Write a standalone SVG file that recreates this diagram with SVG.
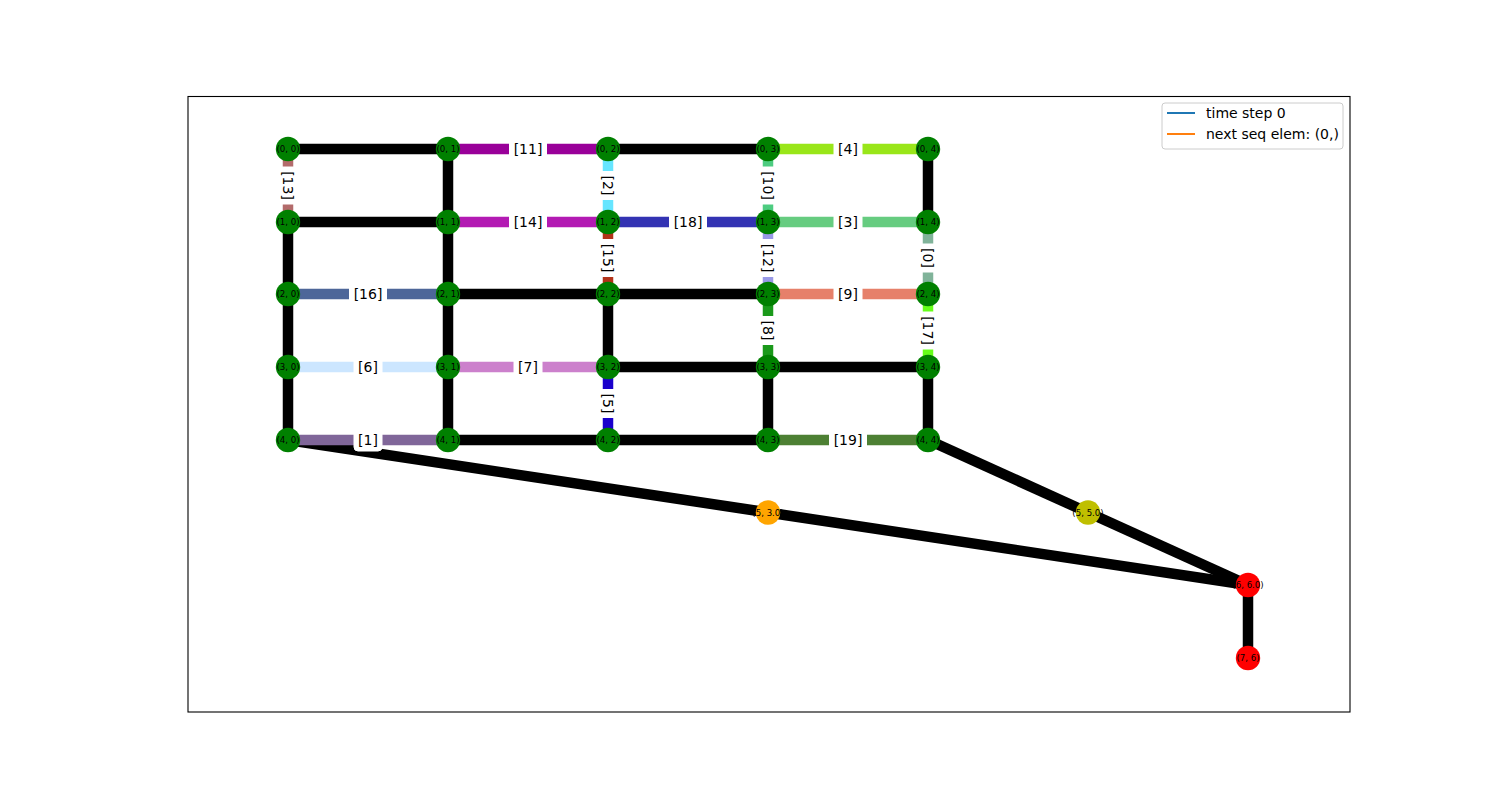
<svg xmlns="http://www.w3.org/2000/svg" width="1500" height="800" viewBox="0 0 1500 800">
<style>
.e{stroke-width:10.5;stroke-linecap:butt;fill:none}
.k{stroke:#000}
.nl{font-family:"DejaVu Sans",sans-serif;font-size:8.6px;text-anchor:middle;fill:#000}
.lb{fill:#fff;stroke:#fff;stroke-width:1}
.lt{font-family:"DejaVu Sans",sans-serif;font-size:14px;text-anchor:middle;fill:#000}
.lg{font-family:"DejaVu Sans",sans-serif;font-size:14px;fill:#000}
</style>
<rect width="1500" height="800" fill="#fff"/>
<rect x="188" y="96.5" width="1162" height="615.5" fill="none" stroke="#000" stroke-width="1.1"/>
<g id="connectors">
<line class="e k" x1="288" y1="149" x2="448" y2="149"/>
<line class="e k" x1="608" y1="149" x2="768" y2="149"/>
<line class="e k" x1="448" y1="149" x2="448" y2="222"/>
<line class="e k" x1="288" y1="222" x2="448" y2="222"/>
<line class="e k" x1="928" y1="149" x2="928" y2="222"/>
<line class="e k" x1="288" y1="222" x2="288" y2="294"/>
<line class="e k" x1="448" y1="222" x2="448" y2="294"/>
<line class="e k" x1="448" y1="294" x2="608" y2="294"/>
<line class="e k" x1="608" y1="294" x2="768" y2="294"/>
<line class="e k" x1="288" y1="294" x2="288" y2="367"/>
<line class="e k" x1="448" y1="294" x2="448" y2="367"/>
<line class="e k" x1="608" y1="294" x2="608" y2="367"/>
<line class="e k" x1="288" y1="367" x2="288" y2="440"/>
<line class="e k" x1="448" y1="367" x2="448" y2="440"/>
<line class="e k" x1="608" y1="367" x2="768" y2="367"/>
<line class="e k" x1="768" y1="367" x2="928" y2="367"/>
<line class="e k" x1="768" y1="367" x2="768" y2="440"/>
<line class="e k" x1="928" y1="367" x2="928" y2="440"/>
<line class="e k" x1="448" y1="440" x2="608" y2="440"/>
<line class="e k" x1="608" y1="440" x2="768" y2="440"/>
<line class="e k" x1="288" y1="440" x2="768" y2="512.5"/>
<line class="e k" x1="768" y1="512.5" x2="1248" y2="585"/>
<line class="e k" x1="928" y1="440" x2="1088" y2="512.5"/>
<line class="e k" x1="1088" y1="512.5" x2="1248" y2="585"/>
<line class="e k" x1="1248" y1="585" x2="1248" y2="658"/>
<line class="e" stroke="#b36b6b" x1="288" y1="149" x2="288" y2="222"/>
<line class="e" stroke="#990099" x1="448" y1="149" x2="608" y2="149"/>
<line class="e" stroke="#b31ab3" x1="448" y1="222" x2="608" y2="222"/>
<line class="e" stroke="#66e5ff" x1="608" y1="149" x2="608" y2="222"/>
<line class="e" stroke="#b33319" x1="608" y1="222" x2="608" y2="294"/>
<line class="e" stroke="#4d6699" x1="288" y1="294" x2="448" y2="294"/>
<line class="e" stroke="#99e619" x1="768" y1="149" x2="928" y2="149"/>
<line class="e" stroke="#4dcc80" x1="768" y1="149" x2="768" y2="222"/>
<line class="e" stroke="#3333b3" x1="608" y1="222" x2="768" y2="222"/>
<line class="e" stroke="#66cc80" x1="768" y1="222" x2="928" y2="222"/>
<line class="e" stroke="#80b399" x1="928" y1="222" x2="928" y2="294"/>
<line class="e" stroke="#9999e6" x1="768" y1="222" x2="768" y2="294"/>
<line class="e" stroke="#e6806a" x1="768" y1="294" x2="928" y2="294"/>
<line class="e" stroke="#cce6ff" x1="288" y1="367" x2="448" y2="367"/>
<line class="e" stroke="#cc80cc" x1="448" y1="367" x2="608" y2="367"/>
<line class="e" stroke="#1a00cc" x1="608" y1="367" x2="608" y2="440"/>
<line class="e" stroke="#806699" x1="288" y1="440" x2="448" y2="440"/>
<line class="e" stroke="#1a991a" x1="768" y1="294" x2="768" y2="367"/>
<line class="e" stroke="#66ff19" x1="928" y1="294" x2="928" y2="367"/>
<line class="e" stroke="#4d8033" x1="768" y1="440" x2="928" y2="440"/>
</g>
<g id="nodes">
<g id="n00"><circle cx="288" cy="149" r="12.2" fill="#008000"/><text class="nl" x="288" y="152">(0, 0)</text></g>
<g id="n01"><circle cx="448" cy="149" r="12.2" fill="#008000"/><text class="nl" x="448" y="152">(0, 1)</text></g>
<g id="n02"><circle cx="608" cy="149" r="12.2" fill="#008000"/><text class="nl" x="608" y="152">(0, 2)</text></g>
<g id="n03"><circle cx="768" cy="149" r="12.2" fill="#008000"/><text class="nl" x="768" y="152">(0, 3)</text></g>
<g id="n04"><circle cx="928" cy="149" r="12.2" fill="#008000"/><text class="nl" x="928" y="152">(0, 4)</text></g>
<g id="n10"><circle cx="288" cy="222" r="12.2" fill="#008000"/><text class="nl" x="288" y="225">(1, 0)</text></g>
<g id="n11"><circle cx="448" cy="222" r="12.2" fill="#008000"/><text class="nl" x="448" y="225">(1, 1)</text></g>
<g id="n12"><circle cx="608" cy="222" r="12.2" fill="#008000"/><text class="nl" x="608" y="225">(1, 2)</text></g>
<g id="n13"><circle cx="768" cy="222" r="12.2" fill="#008000"/><text class="nl" x="768" y="225">(1, 3)</text></g>
<g id="n14"><circle cx="928" cy="222" r="12.2" fill="#008000"/><text class="nl" x="928" y="225">(1, 4)</text></g>
<g id="n20"><circle cx="288" cy="294" r="12.2" fill="#008000"/><text class="nl" x="288" y="297">(2, 0)</text></g>
<g id="n21"><circle cx="448" cy="294" r="12.2" fill="#008000"/><text class="nl" x="448" y="297">(2, 1)</text></g>
<g id="n22"><circle cx="608" cy="294" r="12.2" fill="#008000"/><text class="nl" x="608" y="297">(2, 2)</text></g>
<g id="n23"><circle cx="768" cy="294" r="12.2" fill="#008000"/><text class="nl" x="768" y="297">(2, 3)</text></g>
<g id="n24"><circle cx="928" cy="294" r="12.2" fill="#008000"/><text class="nl" x="928" y="297">(2, 4)</text></g>
<g id="n30"><circle cx="288" cy="367" r="12.2" fill="#008000"/><text class="nl" x="288" y="370">(3, 0)</text></g>
<g id="n31"><circle cx="448" cy="367" r="12.2" fill="#008000"/><text class="nl" x="448" y="370">(3, 1)</text></g>
<g id="n32"><circle cx="608" cy="367" r="12.2" fill="#008000"/><text class="nl" x="608" y="370">(3, 2)</text></g>
<g id="n33"><circle cx="768" cy="367" r="12.2" fill="#008000"/><text class="nl" x="768" y="370">(3, 3)</text></g>
<g id="n34"><circle cx="928" cy="367" r="12.2" fill="#008000"/><text class="nl" x="928" y="370">(3, 4)</text></g>
<g id="n40"><circle cx="288" cy="440" r="12.2" fill="#008000"/><text class="nl" x="288" y="443">(4, 0)</text></g>
<g id="n41"><circle cx="448" cy="440" r="12.2" fill="#008000"/><text class="nl" x="448" y="443">(4, 1)</text></g>
<g id="n42"><circle cx="608" cy="440" r="12.2" fill="#008000"/><text class="nl" x="608" y="443">(4, 2)</text></g>
<g id="n43"><circle cx="768" cy="440" r="12.2" fill="#008000"/><text class="nl" x="768" y="443">(4, 3)</text></g>
<g id="n44"><circle cx="928" cy="440" r="12.2" fill="#008000"/><text class="nl" x="928" y="443">(4, 4)</text></g>
<g id="n53"><circle cx="768" cy="512.5" r="12.2" fill="#ffa500"/><text class="nl" x="768" y="515.5">(5, 3.0)</text></g>
<g id="n55"><circle cx="1088" cy="512.5" r="12.2" fill="#bfbf00"/><text class="nl" x="1088" y="515.5">(5, 5.0)</text></g>
<g id="n66"><circle cx="1248" cy="585" r="12.2" fill="#ff0000"/><text class="nl" x="1248" y="588">(6, 6.0)</text></g>
<g id="n76"><circle cx="1248" cy="658" r="12.2" fill="#ff0000"/><text class="nl" x="1248" y="661">(7, 6)</text></g>
</g>
<g id="edge-labels">
<g><rect class="lb" x="509.5" y="138" width="37" height="22" rx="4"/><text class="lt" x="528" y="154">[11]</text></g>
<g><rect class="lb" x="509.5" y="211" width="37" height="22" rx="4"/><text class="lt" x="528" y="227">[14]</text></g>
<g><rect class="lb" x="669.5" y="211" width="37" height="22" rx="4"/><text class="lt" x="688" y="227">[18]</text></g>
<g><rect class="lb" x="834" y="138" width="28" height="22" rx="4"/><text class="lt" x="848" y="154">[4]</text></g>
<g><rect class="lb" x="834" y="211" width="28" height="22" rx="4"/><text class="lt" x="848" y="227">[3]</text></g>
<g><rect class="lb" x="834" y="283" width="28" height="22" rx="4"/><text class="lt" x="848" y="299">[9]</text></g>
<g><rect class="lb" x="349.5" y="283" width="37" height="22" rx="4"/><text class="lt" x="368" y="299">[16]</text></g>
<g><rect class="lb" x="354" y="356" width="28" height="22" rx="4"/><text class="lt" x="368" y="372">[6]</text></g>
<g><rect class="lb" x="514" y="356" width="28" height="22" rx="4"/><text class="lt" x="528" y="372">[7]</text></g>
<g><rect class="lb" x="354" y="429" width="28" height="22" rx="4"/><text class="lt" x="368" y="445">[1]</text></g>
<g><rect class="lb" x="829.5" y="429" width="37" height="22" rx="4"/><text class="lt" x="848" y="445">[19]</text></g>
<g transform="rotate(90 288 185.5)"><rect class="lb" x="269.5" y="174.5" width="37" height="22" rx="4"/><text class="lt" x="288" y="190.5">[13]</text></g>
<g transform="rotate(90 608 185.5)"><rect class="lb" x="594" y="174.5" width="28" height="22" rx="4"/><text class="lt" x="608" y="190.5">[2]</text></g>
<g transform="rotate(90 768 185.5)"><rect class="lb" x="749.5" y="174.5" width="37" height="22" rx="4"/><text class="lt" x="768" y="190.5">[10]</text></g>
<g transform="rotate(90 608 258)"><rect class="lb" x="589.5" y="247" width="37" height="22" rx="4"/><text class="lt" x="608" y="263">[15]</text></g>
<g transform="rotate(90 768 258)"><rect class="lb" x="749.5" y="247" width="37" height="22" rx="4"/><text class="lt" x="768" y="263">[12]</text></g>
<g transform="rotate(90 928 258)"><rect class="lb" x="914" y="247" width="28" height="22" rx="4"/><text class="lt" x="928" y="263">[0]</text></g>
<g transform="rotate(90 768 330.5)"><rect class="lb" x="754" y="319.5" width="28" height="22" rx="4"/><text class="lt" x="768" y="335.5">[8]</text></g>
<g transform="rotate(90 928 330.5)"><rect class="lb" x="909.5" y="319.5" width="37" height="22" rx="4"/><text class="lt" x="928" y="335.5">[17]</text></g>
<g transform="rotate(90 608 403.5)"><rect class="lb" x="594" y="392.5" width="28" height="22" rx="4"/><text class="lt" x="608" y="408.5">[5]</text></g>
</g>
<g id="legend">
<rect x="1162" y="103" width="181" height="46" rx="3" fill="#fff" fill-opacity="0.8" stroke="#cccccc" stroke-width="1"/>
<line x1="1167" y1="113" x2="1195" y2="113" stroke="#1f77b4" stroke-width="2"/>
<text class="lg" x="1206" y="118">time step 0</text>
<line x1="1167" y1="134" x2="1195" y2="134" stroke="#ff7f0e" stroke-width="2"/>
<text class="lg" x="1206" y="139">next seq elem: (0,)</text>
</g>
</svg>
